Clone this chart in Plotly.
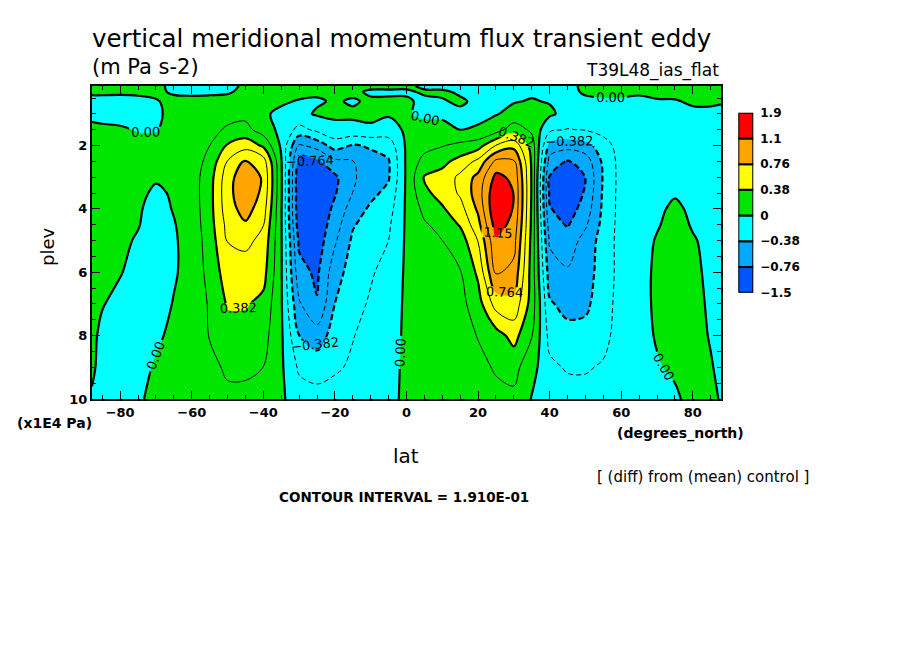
import numpy as np
import plotly.graph_objects as go

"""
Transient eddy vertical flux of meridional momentum, zonal mean,
experiment minus control, drawn in the old ferret style
"""

lat = [-87.86, -85, -80, -75, -70, -65, -60, -55, -50, -45, -40, -35, -30, -25, -20, -15, -10, -5,
       0, 5, 10, 15, 20, 25, 30, 35, 40, 45, 50, 55, 60, 65, 70, 75, 80, 85, 87.86]

# (x1E4 Pa)
plev = [0.12, 0.3, 0.6, 1.0, 1.5, 2.0, 2.5, 3.0, 3.5, 4.0, 4.5, 5.0, 6.0, 7.0, 8.0, 9.0, 10.0]

# one profile per latitude, listed top (0.12) to bottom (10)
flux_profiles = [
    [0.06, 0.03, -0.05, -0.04, 0.04, 0.06, 0.07, 0.07, 0.07, 0.07, 0.06, 0.06, 0.05, 0.05, 0.04, 0.03, -0.02],  # -87.86
    [0.06, 0.03, -0.05, -0.05, 0.03, 0.06, 0.06, 0.07, 0.07, 0.06, 0.06, 0.05, 0.04, 0.01, -0.04, -0.06, -0.05],  # -85
    [0.05, 0.03, -0.06, -0.06, 0.02, 0.06, 0.07, 0.07, 0.07, 0.06, 0.05, 0.04, 0.01, -0.05, -0.07, -0.07, -0.06],  # -80
    [0.05, 0.03, -0.04, -0.07, -0.01, 0.05, 0.06, 0.06, 0.04, 0.02, 0.01, -0.02, -0.06, -0.08, -0.08, -0.06, -0.02],  # -75
    [0.05, 0.03, -0.01, -0.03, -0.01, 0.04, 0.04, 0.02, -0.03, -0.06, -0.08, -0.09, -0.09, -0.08, -0.03, 0.02, 0.04],  # -70
    [-0.05, -0.02, 0.04, 0.05, 0.06, 0.06, 0.05, 0.04, 0.02, 0.01, -0.01, -0.02, -0.02, 0.01, 0.04, 0.06, 0.06],  # -65
    [-0.06, -0.03, 0.04, 0.06, 0.07, 0.08, 0.09, 0.10, 0.10, 0.09, 0.08, 0.07, 0.07, 0.07, 0.08, 0.08, 0.07],  # -60
    [-0.06, -0.03, 0.05, 0.08, 0.13, 0.19, 0.25, 0.30, 0.31, 0.31, 0.30, 0.28, 0.25, 0.21, 0.20, 0.14, 0.09],  # -55
    [-0.05, -0.02, 0.06, 0.12, 0.22, 0.40, 0.58, 0.68, 0.70, 0.68, 0.63, 0.58, 0.48, 0.40, 0.30, 0.22, 0.15],  # -50
    [0.03, 0.04, 0.08, 0.14, 0.25, 0.50, 0.78, 0.90, 0.90, 0.84, 0.74, 0.62, 0.48, 0.40, 0.30, 0.22, 0.15],  # -45
    [0.05, 0.06, 0.05, 0.02, 0.10, 0.35, 0.66, 0.74, 0.72, 0.66, 0.58, 0.52, 0.45, 0.33, 0.26, 0.19, 0.13],  # -40
    [0.06, 0.05, 0.02, -0.03, -0.05, -0.03, 0.02, 0.03, 0.03, 0.02, 0.02, 0.02, 0.02, 0.02, 0.03, 0.03, 0.03],  # -35
    [0.05, 0.04, -0.01, -0.05, -0.25, -0.60, -0.85, -0.93, -0.93, -0.92, -0.88, -0.80, -0.70, -0.55, -0.38, -0.22, -0.10],  # -30
    [0.04, 0.03, -0.02, 0.02, -0.15, -0.50, -0.80, -0.92, -0.93, -0.92, -0.90, -0.87, -0.80, -0.75, -0.48, -0.27, -0.12],  # -25
    [0.04, 0.03, 0.02, 0.03, -0.05, -0.30, -0.62, -0.80, -0.78, -0.72, -0.66, -0.60, -0.46, -0.38, -0.30, -0.22, -0.10],  # -20
    [0.05, 0.04, -0.02, 0.03, -0.05, -0.40, -0.58, -0.60, -0.57, -0.48, -0.40, -0.35, -0.30, -0.25, -0.20, -0.16, -0.06],  # -15
    [0.05, -0.03, 0.03, 0.04, -0.03, -0.36, -0.45, -0.47, -0.43, -0.35, -0.30, -0.26, -0.21, -0.17, -0.12, -0.08, -0.05],  # -10
    [0.05, -0.03, 0.03, 0.02, -0.08, -0.30, -0.40, -0.40, -0.33, -0.27, -0.22, -0.19, -0.13, -0.09, -0.07, -0.05, -0.04],  # -5
    [0.03, -0.02, 0.02, 0.01, 0.03, 0.03, 0.03, 0.03, 0.03, 0.03, 0.03, 0.03, 0.03, 0.03, 0.03, 0.03, 0.03],  # 0
    [-0.03, 0.02, -0.03, -0.02, 0.04, 0.12, 0.26, 0.40, 0.34, 0.24, 0.17, 0.13, 0.10, 0.08, 0.07, 0.06, 0.05],  # 5
    [-0.04, 0.02, -0.01, -0.03, 0.05, 0.18, 0.33, 0.45, 0.45, 0.36, 0.25, 0.19, 0.15, 0.12, 0.10, 0.08, 0.06],  # 10
    [-0.04, -0.02, 0.02, -0.03, 0.00, 0.24, 0.45, 0.62, 0.60, 0.50, 0.40, 0.28, 0.18, 0.13, 0.11, 0.09, 0.07],  # 15
    [-0.04, -0.03, -0.03, -0.02, 0.01, 0.30, 0.62, 0.82, 0.86, 0.80, 0.70, 0.58, 0.42, 0.30, 0.20, 0.14, 0.10],  # 20
    [-0.04, -0.03, -0.02, -0.01, 0.10, 0.58, 1.00, 1.20, 1.30, 1.32, 1.24, 1.12, 0.98, 0.65, 0.30, 0.21, 0.14],  # 25
    [-0.03, -0.02, -0.01, 0.05, 0.30, 0.70, 0.98, 1.10, 1.14, 1.13, 1.08, 1.02, 0.90, 0.70, 0.45, 0.25, 0.15],  # 30
    [-0.03, -0.02, 0.01, 0.05, 0.15, 0.30, 0.35, 0.36, 0.36, 0.35, 0.34, 0.32, 0.30, 0.30, 0.20, 0.07, -0.01],  # 35
    [-0.04, -0.04, -0.01, 0.03, -0.15, -0.45, -0.65, -0.78, -0.80, -0.75, -0.68, -0.60, -0.48, -0.36, -0.25, -0.15, -0.08],  # 40
    [-0.05, -0.04, -0.03, -0.06, -0.20, -0.50, -0.78, -0.92, -0.92, -0.86, -0.78, -0.68, -0.55, -0.44, -0.32, -0.21, -0.11],  # 45
    [0.04, 0.02, -0.03, -0.05, -0.18, -0.45, -0.68, -0.76, -0.74, -0.68, -0.60, -0.50, -0.46, -0.42, -0.32, -0.21, -0.12],  # 50
    [0.05, 0.03, -0.02, -0.04, -0.12, -0.28, -0.34, -0.36, -0.35, -0.34, -0.32, -0.30, -0.30, -0.28, -0.25, -0.17, -0.10],  # 55
    [0.05, 0.03, -0.02, -0.04, -0.07, -0.10, -0.12, -0.12, -0.12, -0.12, -0.12, -0.12, -0.12, -0.11, -0.10, -0.08, -0.06],  # 60
    [0.05, 0.02, -0.03, -0.04, -0.05, -0.07, -0.08, -0.08, -0.08, -0.07, -0.06, -0.05, -0.04, -0.04, -0.04, -0.03, -0.03],  # 65
    [0.05, 0.03, -0.01, -0.04, -0.05, -0.05, -0.05, -0.04, -0.03, -0.02, -0.01, 0.01, 0.02, 0.02, 0.01, -0.01, -0.03],  # 70
    [0.06, 0.04, -0.01, -0.03, -0.04, -0.04, -0.03, -0.02, -0.01, 0.02, 0.04, 0.05, 0.05, 0.05, 0.04, 0.02, -0.02],  # 75
    [0.06, 0.05, 0.02, -0.03, -0.04, -0.04, -0.04, -0.03, -0.03, -0.02, -0.01, 0.01, 0.03, 0.04, 0.05, 0.05, 0.04],  # 80
    [0.06, 0.05, 0.02, -0.03, -0.04, -0.05, -0.05, -0.05, -0.04, -0.04, -0.04, -0.03, -0.03, -0.02, -0.01, 0.01, 0.03],  # 85
    [0.05, 0.04, 0.01, -0.03, -0.03, -0.03, -0.03, -0.03, -0.03, -0.03, -0.03, -0.03, -0.03, -0.03, -0.03, -0.03, -0.01],  # 87.86
]

contour_interval = 0.191

band_labels = ["\u22121.5", "\u22120.76", "\u22120.38", "0", "0.38", "0.76", "1.1", "1.9"]
band_colors = ["#0055ff", "#00aaff", "#00ffff", "#00e600", "#ffff00", "#ffa500", "#ff0000"]

lat_ticks = [-80, -60, -40, -20, 0, 20, 40, 60, 80]
plev_ticks = [2, 4, 6, 8, 10]

FONT = "DejaVu Sans"


def step_colorscale(colors):
    # plotly fills each band with the colour at its centre, the centres sit at k/(n-1)
    n = len(colors)
    scale = []
    for k, c in enumerate(colors):
        lo = max(0.0, (k - 0.5) / (n - 1))
        hi = min(1.0, (k + 0.5) / (n - 1))
        scale.append([lo, c])
        scale.append([hi, c])
    return scale


def line_trace(z, start, end, width, dash, labels=False):
    return go.Contour(
        x=lat, y=plev, z=z, autocontour=False,
        contours=dict(start=start, end=end, size=2 * contour_interval, coloring="none",
                      showlabels=labels, labelformat=".3g",
                      labelfont=dict(family=FONT, size=13, color="black")),
        line=dict(color="black", width=width, dash=dash),
        showscale=False, hoverinfo="skip")


def main():

    z = np.array(flux_profiles).T

    fig = go.Figure()

    # filled bands every 2 contour intervals
    fig.add_trace(go.Contour(
        x=lat, y=plev, z=z, autocontour=False,
        contours=dict(start=-4 * contour_interval, end=6 * contour_interval,
                      size=2 * contour_interval, coloring="fill"),
        colorscale=step_colorscale(band_colors), line=dict(width=0),
        showscale=False, hoverinfo="skip"))

    # thin lines on odd multiples, heavy lines on even ones, negatives dashed
    fig.add_trace(line_trace(z, contour_interval, 9 * contour_interval, 1, "solid"))
    fig.add_trace(line_trace(z, -9 * contour_interval, -contour_interval, 1, "5px,3px"))
    fig.add_trace(line_trace(z, 0, 10 * contour_interval, 2.2, "solid", labels=True))
    fig.add_trace(line_trace(z, -8 * contour_interval, -2 * contour_interval, 2.2, "6px,3px", labels=True))

    # key as a stack of boxes
    fig.add_trace(go.Bar(
        x=[0] * len(band_colors), y=[1] * len(band_colors), base=list(range(len(band_colors))),
        width=1, marker=dict(color=band_colors, line=dict(color="black", width=2)),
        xaxis="x2", yaxis="y2", showlegend=False, hoverinfo="skip"))

    tick_font = dict(family=FONT, size=13, color="black", weight="bold")
    axis_common = dict(ticks="inside", tickcolor="black", tickwidth=1, ticklen=8,
                       showline=True, linecolor="black", linewidth=2, mirror="ticks",
                       showgrid=False, zeroline=False, tickfont=tick_font)

    # page body adds 8px, margins are pulled back by that much
    fig.update_layout(
        width=904, height=654,
        margin=dict(l=84, r=112, t=78, b=263),
        paper_bgcolor="white", plot_bgcolor="white",
        showlegend=False,
        xaxis=dict(domain=[0, 0.8884], range=[lat[0], lat[-1]], tickvals=lat_ticks,
                   minor=dict(dtick=5, tick0=0, ticks="inside", ticklen=4, tickcolor="black"),
                   **axis_common),
        yaxis=dict(range=[plev[-1], plev[0]], tickvals=plev_ticks,
                   minor=dict(dtick=0.5, tick0=0, ticks="inside", ticklen=4, tickcolor="black"),
                   **axis_common),
        xaxis2=dict(domain=[0.9129, 0.9340], range=[-0.5, 0.5], anchor="y2", visible=False),
        yaxis2=dict(domain=[0.3396, 0.9147], range=[0, len(band_colors)], anchor="x2",
                    side="right", tickvals=list(range(len(band_labels))), ticktext=band_labels,
                    ticks="", showgrid=False, zeroline=False, showline=False,
                    ticklabelstandoff=6, tickfont=dict(family=FONT, size=12, color="black", weight="bold")),
    )

    def note(text, x, y, size, xanchor="left", bold=False, angle=0):
        fig.add_annotation(text=text, x=x, y=y, xref="paper", yref="paper", showarrow=False,
                           xanchor=xanchor, yanchor="middle", textangle=angle,
                           font=dict(family=FONT, size=size, color="black",
                                     weight="bold" if bold else "normal"))

    note("vertical meridional momentum flux transient eddy", -0.003, 1.153, 24.5)
    note("(m Pa s-2)", -0.003, 1.061, 21)
    note("T39L48_ias_flat", 0.8884, 1.051, 17, xanchor="right")
    note("plev", -0.062, 0.486, 18, xanchor="center", angle=-90)
    note("lat", 0.4435, -0.182, 20, xanchor="center")
    note("(x1E4 Pa)", -0.109, -0.077, 14, bold=True)
    note("(degrees_north)", 0.7387, -0.109, 14, bold=True)
    note("[ (diff) from (mean) control ]", 0.7105, -0.249, 15)
    note("CONTOUR INTERVAL = 1.910E-01", 0.4407, -0.313, 13.5, xanchor="center", bold=True)

    fig.write_html("out.html")


if __name__ == "__main__":

    main()
